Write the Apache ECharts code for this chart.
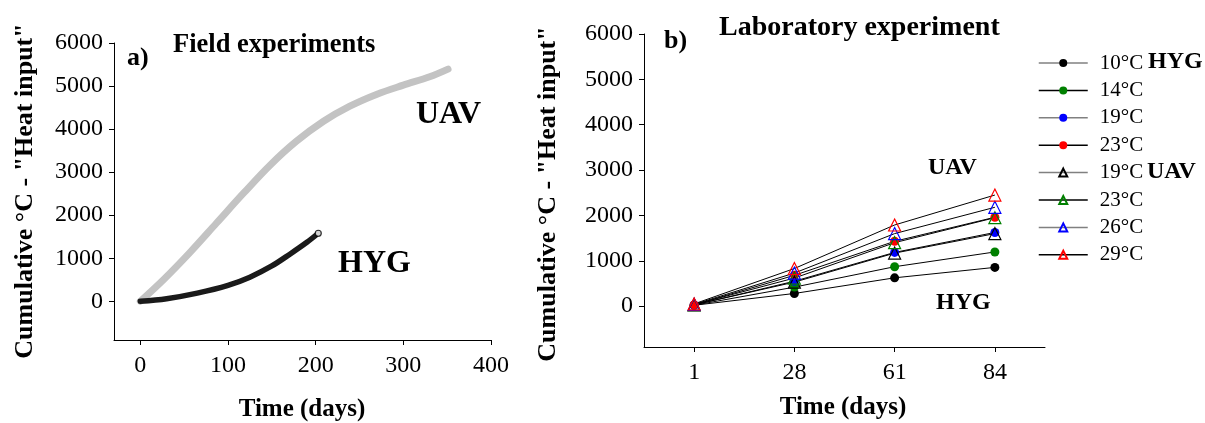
<!DOCTYPE html>
<html><head><meta charset="utf-8">
<script src="https://cdn.jsdelivr.net/npm/echarts@6/dist/echarts.min.js"></script>
<style>html,body{margin:0;padding:0;background:#fff}#c{width:1205px;height:423px}</style>
</head><body><div id="c"></div>
<script>
// ---- Panel a) field experiments ----
const fieldUAVDays = [0, 27, 57, 87, 118, 148, 178, 209, 239, 270, 300, 330, 351];
const fieldUAV     = [0, 513, 1143, 1818, 2516, 3161, 3716, 4181, 4532, 4811, 5021, 5216, 5394];
const fieldHYGDays = [0, 30, 65, 100, 125, 150, 171, 190, 203];
const fieldHYG     = [0, 60, 190, 370, 560, 820, 1100, 1370, 1580];
const fieldXTicks  = [0, 100, 200, 300, 400];
const yTicks       = [0, 1000, 2000, 3000, 4000, 5000, 6000];

// ---- Panel b) laboratory experiment ----
const labDays = ['1', '28', '61', '84'];
const hyg10 = [20, 280, 625, 855];
const hyg14 = [20, 420, 870, 1195];
const hyg19 = [25, 550, 1185, 1625];
const hyg23 = [30, 680, 1430, 1960];
const uav19 = [30, 530, 1170, 1600];
const uav23 = [35, 620, 1400, 1950];
const uav26 = [40, 730, 1600, 2180];
const uav29 = [50, 830, 1790, 2450];

const FONT = '"Liberation Serif", "Times New Roman", serif';
const chart = echarts.init(document.getElementById('c'), null, {renderer: 'canvas'});

function pairs(xs, ys) { return xs.map((x, i) => [x, ys[i]]); }

const labSeries = [
  {name: 'HYG 10°C', data: hyg10, sym: 'circle', color: '#000000', hollow: false, leg: '#808080'},
  {name: 'HYG 14°C', data: hyg14, sym: 'circle', color: '#008000', hollow: false, leg: '#000000'},
  {name: 'HYG 19°C', data: hyg19, sym: 'circle', color: '#0000ff', hollow: false, leg: '#808080'},
  {name: 'HYG 23°C', data: hyg23, sym: 'circle', color: '#ff0000', hollow: false, leg: '#000000'},
  {name: 'UAV 19°C', data: uav19, sym: 'triangle', color: '#000000', hollow: true, leg: '#808080'},
  {name: 'UAV 23°C', data: uav23, sym: 'triangle', color: '#008000', hollow: true, leg: '#000000'},
  {name: 'UAV 26°C', data: uav26, sym: 'triangle', color: '#0000ff', hollow: true, leg: '#808080'},
  {name: 'UAV 29°C', data: uav29, sym: 'triangle', color: '#ff0000', hollow: true, leg: '#000000'}
];

const axisCommon = {
  axisLine: {show: true, onZero: false, lineStyle: {color: '#000', width: 1}},
  splitLine: {show: false}
};
const plain = v => String(v);

const option = {
  backgroundColor: '#fff',
  animation: false,
  grid: [
    {left: 114, top: 43, width: 377, height: 297, containLabel: false, outerBoundsMode: 'none'},
    {left: 644, top: 34, width: 401, height: 313, containLabel: false, outerBoundsMode: 'none'}
  ],
  xAxis: [
    Object.assign({}, axisCommon, {
      gridIndex: 0, type: 'value', min: -30, max: 400,
      axisTick: {show: true, length: 5, customValues: fieldXTicks, lineStyle: {color: '#000'}},
      axisLabel: {customValues: fieldXTicks, formatter: plain, margin: 14, fontSize: 24, fontFamily: FONT, color: '#000'}
    }),
    Object.assign({}, axisCommon, {
      gridIndex: 1, type: 'category', data: labDays, boundaryGap: true,
      axisTick: {show: true, length: 5, alignWithLabel: true, lineStyle: {color: '#000'}},
      axisLabel: {margin: 14, fontSize: 24, fontFamily: FONT, color: '#000'}
    })
  ],
  yAxis: [
    Object.assign({}, axisCommon, {
      gridIndex: 0, type: 'value', min: -900, max: 6000,
      axisTick: {show: true, length: 5, customValues: yTicks, lineStyle: {color: '#000'}},
      axisLabel: {customValues: yTicks, formatter: plain, margin: 11, fontSize: 24, fontFamily: FONT, color: '#000'}
    }),
    Object.assign({}, axisCommon, {
      gridIndex: 1, type: 'value', min: -900, max: 6000,
      axisTick: {show: true, length: 5, customValues: yTicks, lineStyle: {color: '#000'}},
      axisLabel: {customValues: yTicks, formatter: plain, margin: 11, fontSize: 24, fontFamily: FONT, color: '#000'}
    })
  ],
  legend: {
    orient: 'vertical', left: 1033, top: 47,
    itemWidth: 49, itemHeight: 10, itemGap: 5.4,
    selectedMode: false,
    formatter: n => n.split(' ')[1],
    textStyle: {fontFamily: FONT, fontSize: 21, color: '#000', lineHeight: 22, padding: [0, 0, 0, 7]},
    data: labSeries.map(s => ({name: s.name, lineStyle: {color: s.leg, width: 1.5}}))
  },
  series: [
    {
      type: 'line', xAxisIndex: 0, yAxisIndex: 0, name: 'UAV field',
      data: pairs(fieldUAVDays, fieldUAV), smooth: 0.35, showSymbol: false,
      lineStyle: {color: '#c3c3c3', width: 7, cap: 'round'}, z: 2
    },
    {
      type: 'line', xAxisIndex: 0, yAxisIndex: 0, name: 'HYG field',
      data: pairs(fieldHYGDays, fieldHYG), smooth: 0.35, showSymbol: false,
      lineStyle: {color: '#1a1a1a', width: 5.5, cap: 'round'}, z: 3
    },
    {
      type: 'scatter', xAxisIndex: 0, yAxisIndex: 0, name: 'HYG field end',
      data: [[fieldHYGDays[fieldHYGDays.length - 1], fieldHYG[fieldHYG.length - 1]]],
      symbol: 'circle', symbolSize: 6,
      itemStyle: {color: '#fff', borderColor: '#000', borderWidth: 1.2}, z: 4
    }
  ].concat(labSeries.map(s => ({
    type: 'line', xAxisIndex: 1, yAxisIndex: 1, name: s.name, data: s.data,
    symbol: s.sym, symbolSize: s.hollow ? 12 : 9, showSymbol: true,
    lineStyle: {color: '#000', width: 1},
    itemStyle: s.hollow ? {color: 'rgba(255,255,255,0)', borderColor: s.color, borderWidth: 1.2}
                        : {color: s.color, borderColor: s.color, borderWidth: 0},
    z: 3
  }))),
  graphic: [
    {type: 'text', x: 25, y: 191, rotation: Math.PI / 2,
     style: {text: 'Cumulative °C - "Heat input"', textAlign: 'center', textVerticalAlign: 'middle',
             font: 'bold 26px ' + FONT, fill: '#000'}},
    {type: 'text', x: 548, y: 194, rotation: Math.PI / 2,
     style: {text: 'Cumulative °C - "Heat input"', textAlign: 'center', textVerticalAlign: 'middle',
             font: 'bold 26px ' + FONT, fill: '#000'}},
    {type: 'text', x: 302, y: 410,
     style: {text: 'Time (days)', textAlign: 'center', textVerticalAlign: 'middle', font: 'bold 25px ' + FONT, fill: '#000'}},
    {type: 'text', x: 843, y: 408,
     style: {text: 'Time (days)', textAlign: 'center', textVerticalAlign: 'middle', font: 'bold 25px ' + FONT, fill: '#000'}},
    {type: 'text', x: 127, y: 58,
     style: {text: 'a)', textAlign: 'left', textVerticalAlign: 'middle', font: 'bold 26px ' + FONT, fill: '#000'}},
    {type: 'text', x: 173, y: 45,
     style: {text: 'Field experiments', textAlign: 'left', textVerticalAlign: 'middle', font: 'bold 26.5px ' + FONT, fill: '#000'}},
    {type: 'text', x: 664, y: 41,
     style: {text: 'b)', textAlign: 'left', textVerticalAlign: 'middle', font: 'bold 26px ' + FONT, fill: '#000'}},
    {type: 'text', x: 719, y: 28,
     style: {text: 'Laboratory experiment', textAlign: 'left', textVerticalAlign: 'middle', font: 'bold 28px ' + FONT, fill: '#000'}},
    {type: 'text', x: 416, y: 115,
     style: {text: 'UAV', textAlign: 'left', textVerticalAlign: 'middle', font: 'bold 32px ' + FONT, fill: '#000'}},
    {type: 'text', x: 338, y: 264,
     style: {text: 'HYG', textAlign: 'left', textVerticalAlign: 'middle', font: 'bold 32px ' + FONT, fill: '#000'}},
    {type: 'text', x: 928, y: 168,
     style: {text: 'UAV', textAlign: 'left', textVerticalAlign: 'middle', font: 'bold 24px ' + FONT, fill: '#000'}},
    {type: 'text', x: 936, y: 303,
     style: {text: 'HYG', textAlign: 'left', textVerticalAlign: 'middle', font: 'bold 24px ' + FONT, fill: '#000'}},
    {type: 'text', x: 1148, y: 62,
     style: {text: 'HYG', textAlign: 'left', textVerticalAlign: 'middle', font: 'bold 24px ' + FONT, fill: '#000'}},
    {type: 'text', x: 1147, y: 172,
     style: {text: 'UAV', textAlign: 'left', textVerticalAlign: 'middle', font: 'bold 24px ' + FONT, fill: '#000'}}
  ]
};
chart.setOption(option);
</script></body></html>
